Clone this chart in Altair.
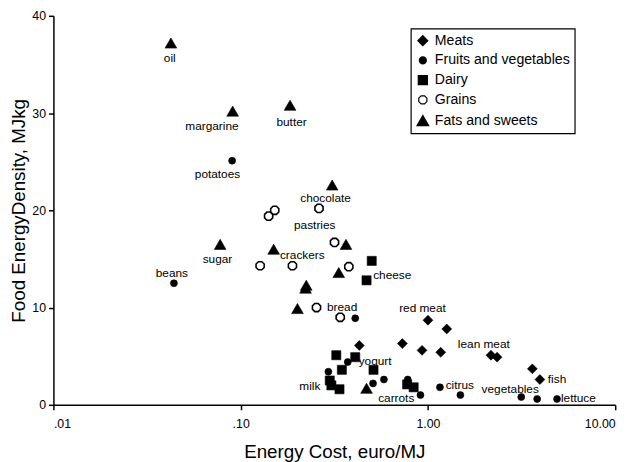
import altair as alt
import pandas as pd

categories = ["Meats", "Fruits and vegetables", "Dairy", "Grains", "Fats and sweets"]

meat_x = [1.00, 1.26, 0.43, 0.73, 0.93, 1.17, 2.17, 2.34, 3.61, 3.96]
meat_y = [8.7, 7.8, 6.1, 6.3, 5.6, 5.4, 5.1, 4.9, 3.7, 2.6]

fv_x = [0.090, 0.044, 0.409, 0.373, 0.294, 0.509, 0.582, 0.780, 0.912, 1.159, 1.49, 3.15, 3.83, 4.89]
fv_y = [25.1, 12.5, 8.9, 4.4, 3.4, 2.2, 2.6, 2.6, 1.0, 1.8, 1.0, 0.8, 0.6, 0.6]

dairy_x = [0.501, 0.470, 0.324, 0.409, 0.347, 0.512, 0.299, 0.305, 0.337, 0.774, 0.839]
dairy_y = [14.8, 12.8, 5.1, 4.9, 3.6, 3.6, 2.5, 2.0, 1.6, 2.1, 1.8]

grain_x = [0.152, 0.141, 0.262, 0.317, 0.127, 0.189, 0.378, 0.254, 0.340]
grain_y = [20.0, 19.4, 20.2, 16.7, 14.3, 14.3, 14.2, 10.0, 9.0]

fat_x = [0.0424, 0.0906, 0.1835, 0.308, 0.0777, 0.150, 0.365, 0.334, 0.224, 0.222, 0.201, 0.470]
fat_y = [37.2, 30.2, 30.8, 22.6, 16.5, 16.0, 16.5, 13.6, 12.3, 12.0, 9.9, 1.7]

label_text = ["oil", "margarine", "butter", "potatoes", "chocolate", "pastries", "crackers",
              "sugar", "beans", "bread", "cheese", "red meat", "lean meat", "yogurt", "milk",
              "carrots", "citrus", "vegetables", "fish", "lettuce"]
label_x = [0.0418, 0.0702, 0.187, 0.0752, 0.284, 0.2486, 0.2133, 0.0752, 0.0429, 0.348,
           0.645, 0.935, 1.988, 0.522, 0.234, 0.677, 1.479, 2.75, 4.89, 6.36]
label_y = [35.7, 28.7, 29.1, 23.7, 21.3, 18.5, 15.4, 15.0, 13.5, 10.1,
           13.3, 9.9, 6.2, 4.55, 1.9, 0.67, 2.0, 1.6, 2.6, 0.67]

x_ticks = [0.01, 0.1, 1, 10]
x_tick_labels = [".01", ".10", "1.00", "10.00"]
y_ticks = [0, 10, 20, 30, 40]

series = [meat_x, fv_x, dairy_x, grain_x, fat_x]
series_y = [meat_y, fv_y, dairy_y, grain_y, fat_y]
rows = []
for cat, xs, ys in zip(categories, series, series_y):
    for xv, yv in zip(xs, ys):
        rows.append({"cat": cat, "x": xv, "y": yv})
points = pd.DataFrame(rows)
labels = pd.DataFrame({"text": label_text, "x": label_x, "y": label_y})

octagon = "M-0.42,-1L0.42,-1L1,-0.42L1,0.42L0.42,1L-0.42,1L-1,0.42L-1,-0.42Z"

label_expr = "''"
for v, t in reversed(list(zip(x_ticks, x_tick_labels))):
    label_expr = f"abs(datum.value - {v}) < {v}*0.01 ? '{t}' : ({label_expr})"

xscale = alt.Scale(type="log", domain=[0.01, 10], nice=False)
yscale = alt.Scale(domain=[0, 40], nice=False)

xenc = alt.X("x:Q", scale=xscale,
             axis=alt.Axis(title="Energy Cost, euro/MJ", values=x_ticks, labelExpr=label_expr,
                           grid=False))
yenc = alt.Y("y:Q", scale=yscale,
             axis=alt.Axis(title="Food EnergyDensity, MJkg", values=y_ticks, grid=False))

pts = alt.Chart(points).mark_point(filled=True, stroke="black", opacity=1).encode(
    x=xenc,
    y=yenc,
    shape=alt.Shape("cat:N", scale=alt.Scale(domain=categories,
                    range=["diamond", "circle", "square", octagon, "triangle-up"]),
                    legend=alt.Legend(title=None)),
    fill=alt.Fill("cat:N", scale=alt.Scale(domain=categories,
                  range=["black", "black", "black", "white", "black"]),
                  legend=alt.Legend(title=None)),
    size=alt.Size("cat:N", scale=alt.Scale(type="ordinal", domain=categories,
                  range=[100, 50, 85, 68, 140]),
                  legend=alt.Legend(title=None)),
    strokeWidth=alt.condition(alt.datum.cat == "Grains", alt.value(1.6), alt.value(0.6)),
)

txt = alt.Chart(labels).mark_text(fontSize=12, align="center", baseline="middle",
                                  color="black", font="Liberation Sans").encode(
    x=alt.X("x:Q", scale=xscale),
    y=alt.Y("y:Q", scale=yscale),
    text="text:N",
)

chart = alt.layer(pts, txt).properties(
    width=569, height=394,
    autosize=alt.AutoSizeParams(type="none"),
    padding={"left": 46, "top": 5, "right": 17, "bottom": 55},
).configure(font="Liberation Sans").configure_view(stroke=None).configure_axis(
    domainColor="black", domainWidth=1.5, tickColor="black", tickWidth=1.5, tickSize=5,
    labelColor="black", labelFontSize=12.5, titleColor="black", titleFontSize=19,
    titleFontWeight="normal", labelFont="Liberation Sans", titleFont="Liberation Sans",
).configure_axisX(labelPadding=8, titlePadding=13).configure_axisY(
    labelPadding=3, titlePadding=3
).configure_legend(
    orient="none", legendX=362, legendY=13, strokeColor="black", strokeWidth=1.2,
    padding=5, labelFontSize=14.3, rowPadding=5, symbolStrokeWidth=1.2,
    labelColor="black", labelFont="Liberation Sans", fillColor="white", symbolOffset=0,
    labelOffset=5,
)

chart.save("out.html", embed_options={"renderer": "svg", "actions": False})
